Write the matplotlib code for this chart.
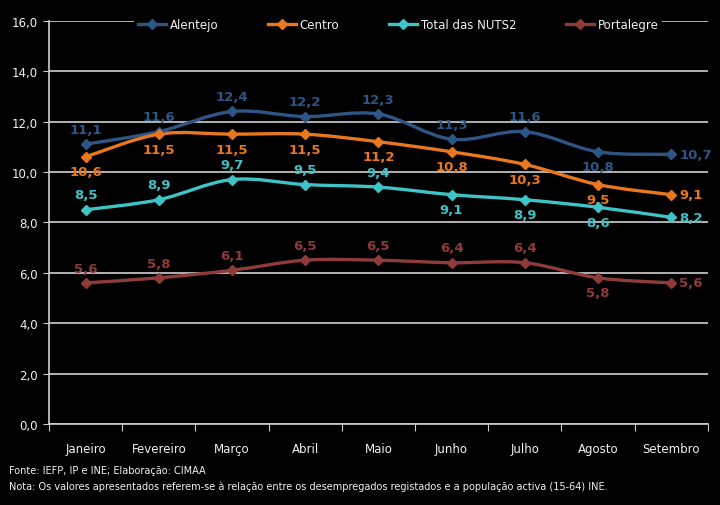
import numpy as np
import matplotlib
matplotlib.use("Agg")
import matplotlib.pyplot as plt
from matplotlib.path import Path
from matplotlib.patches import PathPatch
from matplotlib.lines import Line2D

months = ["Janeiro", "Fevereiro", "Março", "Abril", "Maio", "Junho", "Julho", "Agosto", "Setembro"]
alentejo = [11.1, 11.6, 12.4, 12.2, 12.3, 11.3, 11.6, 10.8, 10.7]
centro = [10.6, 11.5, 11.5, 11.5, 11.2, 10.8, 10.3, 9.5, 9.1]
total_nuts = [8.5, 8.9, 9.7, 9.5, 9.4, 9.1, 8.9, 8.6, 8.2]
portalegre = [5.6, 5.8, 6.1, 6.5, 6.5, 6.4, 6.4, 5.8, 5.6]

names = ["Alentejo", "Centro", "Total das NUTS2", "Portalegre"]
colors = ["#2D5586", "#E8771E", "#3EC3C6", "#8E3B3A"]
# label placement per point: 'a' above, 'b' below, 'r' right
places = [
    ["a", "a", "a", "a", "a", "a", "a", "b", "r"],
    ["b", "b", "b", "b", "b", "b", "b", "b", "r"],
    ["a", "a", "a", "a", "a", "b", "b", "b", "r"],
    ["a", "a", "a", "a", "a", "a", "a", "b", "r"],
]

fg = "#F2F2F2"
grid_c = "#D0D0D0"


def smooth_path(x, y):
    # catmull-rom style bezier through the points (rendering only)
    x = np.asarray(x, float)
    y = np.asarray(y, float)
    verts = [(x[0], y[0])]
    codes = [Path.MOVETO]
    n = len(x)
    for i in range(n - 1):
        i0 = max(i - 1, 0)
        i3 = min(i + 2, n - 1)
        c1 = (x[i] + (x[i + 1] - x[i0]) / 6, y[i] + (y[i + 1] - y[i0]) / 6)
        c2 = (x[i + 1] - (x[i3] - x[i]) / 6, y[i + 1] - (y[i3] - y[i]) / 6)
        verts += [c1, c2, (x[i + 1], y[i + 1])]
        codes += [Path.CURVE4] * 3
    return Path(verts, codes)


fig = plt.figure(figsize=(7.2, 5.06), dpi=100, facecolor="black")
ax = fig.add_axes([0.068, 0.160, 0.915, 0.797])
ax.set_facecolor("black")

xs = np.arange(len(months)) + 0.5
series = [alentejo, centro, total_nuts, portalegre]

for vals, col, pl in zip(series, colors, places):
    ax.add_patch(PathPatch(smooth_path(xs, vals), facecolor="none", edgecolor=col,
                           lw=2.4, zorder=3, capstyle="round"))
    ax.plot(xs, vals, ls="none", marker="D", ms=5, color=col, zorder=4)
    for x, v, p in zip(xs, vals, pl):
        txt = f"{v:.1f}".replace(".", ",")
        if p == "a":
            ax.annotate(txt, (x, v), xytext=(0, 6), textcoords="offset points",
                        ha="center", va="bottom", color=col, fontsize=9.5, fontweight="bold")
        elif p == "b":
            ax.annotate(txt, (x, v), xytext=(0, -6), textcoords="offset points",
                        ha="center", va="top", color=col, fontsize=9.5, fontweight="bold")
        else:
            ax.annotate(txt, (x, v), xytext=(6, 0), textcoords="offset points",
                        ha="left", va="center", color=col, fontsize=9.5, fontweight="bold")

ax.set_xlim(0, len(months))
ax.set_ylim(0, 16)
ax.set_yticks(np.arange(0, 17, 2))
ax.set_yticklabels([f"{v:.1f}".replace(".", ",") for v in np.arange(0, 17, 2)])
ax.yaxis.grid(True, color=grid_c, lw=1.2)
ax.set_axisbelow(True)

ax.set_xticks(np.arange(0, len(months) + 1))
ax.set_xticklabels([])
ax.set_xticks(xs, minor=True)
ax.set_xticklabels(months, minor=True)
ax.tick_params(axis="x", which="major", length=5, color=grid_c, direction="out")
ax.tick_params(axis="x", which="minor", length=0, pad=13, labelcolor=fg, labelsize=8.5)
ax.tick_params(axis="y", length=4, color=grid_c, labelcolor=fg, labelsize=8.5, pad=4)

for s in ["top", "right"]:
    ax.spines[s].set_visible(False)
for s in ["left", "bottom"]:
    ax.spines[s].set_color(grid_c)
    ax.spines[s].set_linewidth(1.2)

handles = [Line2D([0], [0], color=c, lw=2.4, marker="D", ms=5) for c in colors]
leg = ax.legend(handles, names, ncol=4, loc="center", bbox_to_anchor=(0.53, 0.99),
                frameon=True, facecolor="black", edgecolor="none", framealpha=1,
                fontsize=8.5, handlelength=2.4, columnspacing=4.2, handletextpad=0.3,
                borderpad=0.3, borderaxespad=0)
for t in leg.get_texts():
    t.set_color(fg)
leg.set_zorder(5)

fig.text(0.012, 0.064, "Fonte: IEFP, IP e INE; Elaboração: CIMAA", color=fg, fontsize=7)
fig.text(0.012, 0.031, "Nota: Os valores apresentados referem-se à relação entre os desempregados registados e a população activa (15-64) INE.",
         color=fg, fontsize=7)

fig.savefig("out.png", dpi=100, facecolor="black")
